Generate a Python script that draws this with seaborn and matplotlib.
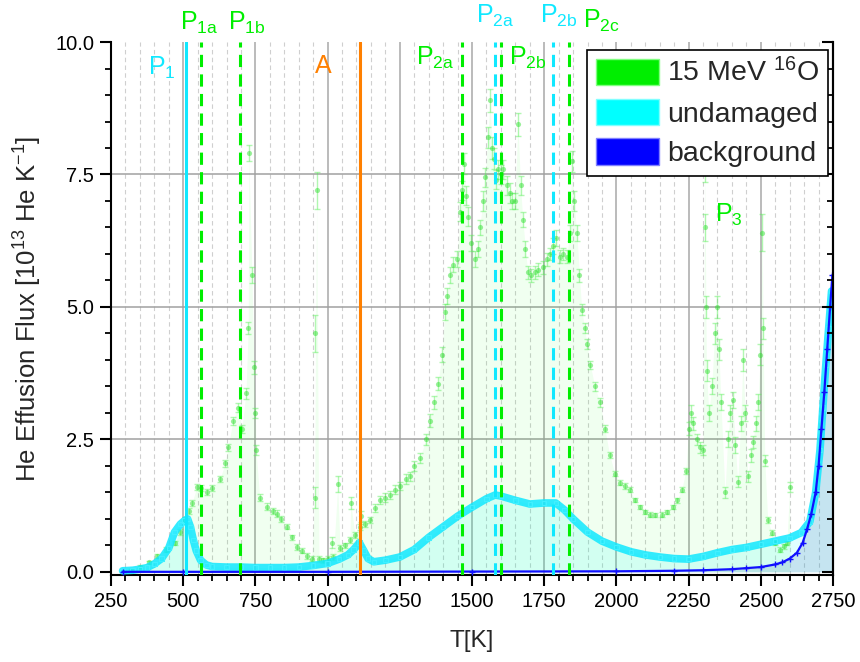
import numpy as np
import matplotlib
matplotlib.use("Agg")
import matplotlib.pyplot as plt
import seaborn as sns
from matplotlib.patches import Patch
from matplotlib.ticker import MultipleLocator

# ---------------- data ----------------
green_T = [290, 320, 350, 380, 410, 440, 470, 490, 506, 520, 530, 547, 560, 582, 600, 627, 645, 655,
           672, 690, 703, 717, 725, 727, 738, 745, 750, 752, 765, 789, 810, 824, 840, 858, 875, 893,
           910, 928, 945, 955, 958, 962, 970, 985, 1000, 1015, 1020, 1035, 1043, 1060, 1077, 1080,
           1095, 1112, 1115, 1130, 1146, 1165, 1181, 1200, 1216, 1235, 1250, 1270, 1285, 1300, 1320,
           1340, 1354, 1370, 1382, 1395, 1406, 1415, 1423, 1435, 1447, 1460, 1465, 1472, 1480, 1486,
           1497, 1510, 1520, 1527, 1537, 1545, 1555, 1562, 1570, 1576, 1583, 1590, 1600, 1607, 1620,
           1631, 1640, 1648, 1659, 1668, 1676, 1685, 1693, 1705, 1718, 1730, 1745, 1760, 1770, 1780,
           1790, 1804, 1815, 1828, 1838, 1845, 1853, 1863, 1872, 1880, 1890, 1898, 1910, 1925, 1943,
           1960, 1977, 1995, 2012, 2030, 2046, 2065, 2081, 2100, 2116, 2135, 2157, 2175, 2195, 2210,
           2226, 2240, 2250, 2258, 2266, 2278, 2290, 2300, 2306, 2308, 2310, 2312, 2320, 2330, 2340,
           2348, 2355, 2362, 2376, 2385, 2395, 2403, 2412, 2420, 2430, 2438, 2446, 2455, 2465, 2472,
           2482, 2490, 2498, 2505, 2508, 2514, 2524, 2538, 2550, 2566, 2580, 2590, 2600]
green_flux = [0.02, 0.04, 0.10, 0.18, 0.30, 0.42, 0.55, 0.75, 0.98, 1.15, 1.30, 1.60, 1.58, 1.51, 1.58,
              1.75, 2.05, 2.35, 2.85, 3.10, 2.70, 3.37, 4.60, 7.90, 5.60, 3.86, 3.00, 2.30, 1.40, 1.23,
              1.15, 1.10, 1.00, 0.85, 0.65, 0.47, 0.40, 0.30, 0.25, 1.40, 4.50, 7.20, 0.24, 0.22, 0.25,
              0.55, 0.28, 1.65, 0.45, 0.50, 0.60, 1.30, 0.70, 0.85, 1.05, 0.90, 0.98, 1.20, 1.36, 1.40,
              1.45, 1.55, 1.62, 1.75, 1.80, 2.00, 2.15, 2.50, 2.85, 3.20, 3.55, 4.10, 4.90, 5.20, 5.60,
              5.80, 5.90, 6.80, 7.20, 7.70, 7.10, 6.70, 6.20, 5.90, 6.10, 6.50, 7.00, 7.45, 8.20, 8.90,
              8.00, 7.80, 7.40, 7.60, 7.50, 7.60, 7.30, 7.15, 7.00, 7.00, 8.45, 7.30, 6.65, 6.10, 5.65,
              5.60, 5.65, 5.70, 5.75, 5.90, 6.00, 6.15, 6.30, 5.95, 6.00, 5.95, 6.40, 7.75, 7.00, 6.40,
              5.60, 4.95, 4.60, 4.30, 3.90, 3.50, 3.20, 2.70, 2.20, 1.85, 1.68, 1.62, 1.55, 1.35, 1.23,
              1.13, 1.08, 1.07, 1.08, 1.13, 1.23, 1.35, 1.55, 1.90, 2.70, 3.00, 2.80, 2.50, 2.35, 2.30,
              7.60, 6.50, 5.00, 3.80, 3.00, 3.50, 4.50, 5.00, 4.20, 3.20, 1.50, 2.50, 3.00, 3.25, 2.40,
              1.70, 2.80, 4.00, 3.00, 1.80, 2.20, 2.45, 2.80, 3.20, 4.10, 6.40, 4.60, 2.10, 0.98, 0.74,
              0.55, 0.42, 0.48, 0.55, 1.60]
green_err = [0.02, 0.02, 0.03, 0.03, 0.03, 0.04, 0.04, 0.05, 0.05, 0.05, 0.05, 0.06, 0.06, 0.06, 0.06,
             0.06, 0.07, 0.07, 0.08, 0.08, 0.08, 0.10, 0.12, 0.15, 0.15, 0.12, 0.10, 0.10, 0.06, 0.06,
             0.06, 0.06, 0.06, 0.05, 0.05, 0.05, 0.05, 0.05, 0.05, 0.20, 0.35, 0.35, 0.05, 0.05, 0.05,
             0.10, 0.05, 0.15, 0.05, 0.05, 0.05, 0.12, 0.06, 0.06, 0.10, 0.06, 0.06, 0.08, 0.08, 0.08,
             0.08, 0.08, 0.08, 0.09, 0.09, 0.10, 0.10, 0.10, 0.12, 0.12, 0.12, 0.14, 0.15, 0.15, 0.15,
             0.15, 0.15, 0.18, 0.18, 0.20, 0.18, 0.18, 0.15, 0.15, 0.15, 0.15, 0.18, 0.18, 0.20, 0.22,
             0.20, 0.20, 0.18, 0.18, 0.18, 0.18, 0.18, 0.18, 0.15, 0.15, 0.22, 0.18, 0.15, 0.15, 0.12,
             0.12, 0.12, 0.12, 0.12, 0.12, 0.12, 0.15, 0.15, 0.12, 0.12, 0.12, 0.15, 0.20, 0.18, 0.15,
             0.12, 0.10, 0.10, 0.10, 0.08, 0.08, 0.08, 0.07, 0.06, 0.05, 0.05, 0.05, 0.05, 0.04, 0.04,
             0.04, 0.04, 0.04, 0.04, 0.04, 0.04, 0.05, 0.05, 0.06, 0.12, 0.15, 0.12, 0.10, 0.10, 0.10,
             0.25, 0.25, 0.20, 0.20, 0.15, 0.15, 0.20, 0.20, 0.20, 0.15, 0.10, 0.15, 0.15, 0.15, 0.15,
             0.10, 0.15, 0.20, 0.15, 0.10, 0.12, 0.12, 0.15, 0.15, 0.20, 0.35, 0.20, 0.10, 0.06, 0.05,
             0.05, 0.04, 0.04, 0.04, 0.10]

cyan_T = [290, 325, 350, 375, 400, 425, 450, 470, 490, 505, 515, 525, 535, 545, 560, 580, 600, 650,
          700, 750, 800, 850, 900, 950, 1000, 1040, 1070, 1090, 1110, 1125, 1140, 1160, 1200, 1250,
          1300, 1350, 1400, 1450, 1500, 1550, 1580, 1600, 1650, 1700, 1750, 1790, 1820, 1850, 1900,
          1950, 2000, 2050, 2100, 2150, 2200, 2250, 2300, 2350, 2400, 2450, 2500, 2550, 2600, 2640,
          2670, 2690, 2705, 2715, 2725, 2735, 2745]
cyan_flux = [0.02, 0.03, 0.05, 0.08, 0.15, 0.25, 0.45, 0.75, 0.90, 0.97, 1.00, 0.85, 0.60, 0.40, 0.22,
             0.13, 0.10, 0.09, 0.09, 0.08, 0.08, 0.08, 0.09, 0.12, 0.16, 0.24, 0.32, 0.42, 0.55, 0.40,
             0.25, 0.19, 0.22, 0.28, 0.42, 0.65, 0.85, 1.05, 1.22, 1.38, 1.45, 1.43, 1.35, 1.28, 1.30,
             1.30, 1.17, 1.00, 0.75, 0.58, 0.47, 0.38, 0.32, 0.28, 0.25, 0.24, 0.29, 0.36, 0.42, 0.46,
             0.52, 0.58, 0.64, 0.74, 0.95, 1.50, 2.30, 3.10, 3.90, 4.60, 5.30]

blue_T = [290, 500, 1000, 1500, 2000, 2200, 2300, 2400, 2450, 2500, 2550, 2575, 2600, 2625, 2645, 2660,
          2675, 2690, 2700, 2710, 2720, 2730, 2740, 2748]
blue_flux = [0.0, 0.0, 0.0, 0.005, 0.01, 0.02, 0.03, 0.05, 0.07, 0.09, 0.14, 0.18, 0.25, 0.36, 0.55,
             0.80, 1.10, 1.50, 2.00, 2.70, 3.40, 4.20, 5.00, 5.60]

series_names = ["15 MeV $^{16}$O", "undamaged", "background"]

peak_T = [510, 560, 695, 1112, 1466, 1580, 1600, 1782, 1835]
peak_kind = ["cyan_solid", "green_dash", "green_dash", "orange_solid", "green_dash",
             "cyan_dash", "green_dash", "cyan_dash", "green_dash"]

label_text = ["P$_1$", "P$_{1a}$", "P$_{1b}$", "A", "P$_{2a}$", "P$_{2a}$", "P$_{2b}$", "P$_{2b}$",
              "P$_{2c}$", "P$_3$"]
label_T = [378, 489, 655, 956, 1306, 1513, 1628, 1735, 1884, 2341]
label_y = [9.38, 10.23, 10.23, 9.42, 9.57, 10.36, 9.57, 10.36, 10.26, 6.6]
label_kind = ["cyan", "green", "green", "orange", "green", "cyan", "green", "cyan", "green", "green"]

# ---------------- style ----------------
GREEN = "#00ee00"
CYAN = "#10e8ff"
BLUE = "#1010ff"
ORANGE = "#ff8000"
col = {"cyan": CYAN, "green": GREEN, "orange": ORANGE}

sns.set_theme(style="white")
plt.rcParams["font.family"] = ["Liberation Sans", "DejaVu Sans"]
plt.rcParams["mathtext.fontset"] = "custom"
plt.rcParams["mathtext.rm"] = "Liberation Sans"
plt.rcParams["mathtext.it"] = "Liberation Sans:italic"
plt.rcParams["mathtext.bf"] = "Liberation Sans:bold"
plt.rcParams["mathtext.default"] = "regular"

fig = plt.figure(figsize=(8.6, 6.62), dpi=100)
ax = fig.add_axes([0.1291, 0.1314, 0.8395, 0.8051])
ax.set_xlim(250, 2750)
ax.set_ylim(-0.06, 10.0)

# grid
for xv in range(300, 2750, 50):
    if xv % 250 == 0:
        ax.axvline(xv, color="#a8a8a8", lw=1.1, zorder=0.5)
    else:
        ax.axvline(xv, color="#cfcfcf", lw=0.8, ls=(0, (4, 3)), zorder=0.5)
for yv in [2.5, 5.0, 7.5]:
    ax.axhline(yv, color="#a0a0a0", lw=1.1, zorder=0.5)

# fills
ax.fill_between(green_T, 0, green_flux, color="#00ff00", alpha=0.06, lw=0, zorder=1)
ax.fill_between(cyan_T, 0, cyan_flux, color="#00ffff", alpha=0.12, lw=0, zorder=1)
ax.fill_between(blue_T, 0, blue_flux, color="#3050a0", alpha=0.15, lw=0, zorder=1)

# green data
ax.errorbar(green_T, green_flux, yerr=green_err, fmt="none", ecolor="#55ee55", alpha=0.45,
            elinewidth=1, capsize=2, zorder=2)
sns.scatterplot(x=green_T, y=green_flux, ax=ax, color="#22dd22", marker="o", s=14, alpha=0.45,
                linewidth=0, zorder=2.5, legend=False)

# cyan data
sns.lineplot(x=cyan_T, y=cyan_flux, ax=ax, color=CYAN, lw=5.5, alpha=0.85, zorder=3, legend=False)
sns.scatterplot(x=cyan_T, y=cyan_flux, ax=ax, marker="s", s=10, facecolor="none",
                edgecolor="#40f0ff", linewidth=0.8, zorder=3.2, legend=False)

# blue data
sns.lineplot(x=blue_T, y=blue_flux, ax=ax, color=BLUE, lw=1.6, zorder=4, legend=False)
sns.scatterplot(x=blue_T, y=blue_flux, ax=ax, marker="+", s=20, color=BLUE, linewidth=1,
                zorder=4.2, legend=False)

# peak lines
for t, k in zip(peak_T, peak_kind):
    c = {"cyan": CYAN, "green": GREEN, "orange": ORANGE}[k.split("_")[0]]
    ls = "-" if k.endswith("solid") else (0, (4, 2.4))
    ax.axvline(t, color=c, lw=2.2, ls=ls, zorder=5)

# labels
for txt, t, y, k in zip(label_text, label_T, label_y, label_kind):
    ax.text(t, y, txt, color=col[k], fontsize=18, ha="left", va="baseline", zorder=6, clip_on=False)

# axes styling
ax.xaxis.set_major_locator(MultipleLocator(250))
ax.xaxis.set_minor_locator(MultipleLocator(50))
ax.yaxis.set_major_locator(MultipleLocator(2.5))
ax.yaxis.set_minor_locator(MultipleLocator(0.5))
ax.yaxis.set_major_formatter(matplotlib.ticker.FormatStrFormatter("%.1f"))
ax.tick_params(axis="both", which="major", direction="out", length=8, width=1.5, labelsize=14.5,
               color="black", labelcolor="black", left=True, bottom=True, right=False, top=False, pad=4)
ax.tick_params(axis="both", which="minor", direction="out", length=4.5, width=1.3, color="black",
               left=True, bottom=True, right=False, top=False)
for s in ["left", "bottom", "right"]:
    ax.spines[s].set_color("black")
    ax.spines[s].set_linewidth(1.5)
ax.spines["top"].set_visible(False)

ax2 = ax.twinx()
ax2.set_ylim(ax.get_ylim())
ax2.yaxis.set_major_locator(MultipleLocator(2.5))
ax2.yaxis.set_minor_locator(MultipleLocator(0.5))
ax2.tick_params(axis="y", which="major", direction="in", length=8, width=1.5, labelright=False,
                right=True, color="black")
ax2.tick_params(axis="y", which="minor", direction="in", length=4.5, width=1.3, right=True,
                color="black")
for s in ["left", "bottom", "top"]:
    ax2.spines[s].set_visible(False)
ax2.spines["right"].set_color("black")
ax2.spines["right"].set_linewidth(1.5)
ax2.grid(False)

ax.set_xlabel("T[K]", fontsize=17.5, labelpad=14)
ax.set_ylabel("He Effusion Flux [10$^{13}$ He K$^{-1}$]", fontsize=18.5, labelpad=8)

handles = [Patch(facecolor=GREEN, edgecolor="#80ff80", label=series_names[0]),
           Patch(facecolor="#00ffff", edgecolor="#80ffff", label=series_names[1]),
           Patch(facecolor="#0000ff", edgecolor="#8080ff", label=series_names[2])]
leg = ax2.legend(handles=handles, loc="upper right", bbox_to_anchor=(0.993, 0.985), fontsize=20.5,
                 frameon=True, fancybox=False, framealpha=1, edgecolor="black",
                 handlelength=2.2, handleheight=1.05, labelspacing=0.38, borderpad=0.3,
                 handletextpad=0.3, borderaxespad=0)
leg.get_frame().set_linewidth(1.2)
leg.set_zorder(10)

fig.savefig("out.png", dpi=100)
